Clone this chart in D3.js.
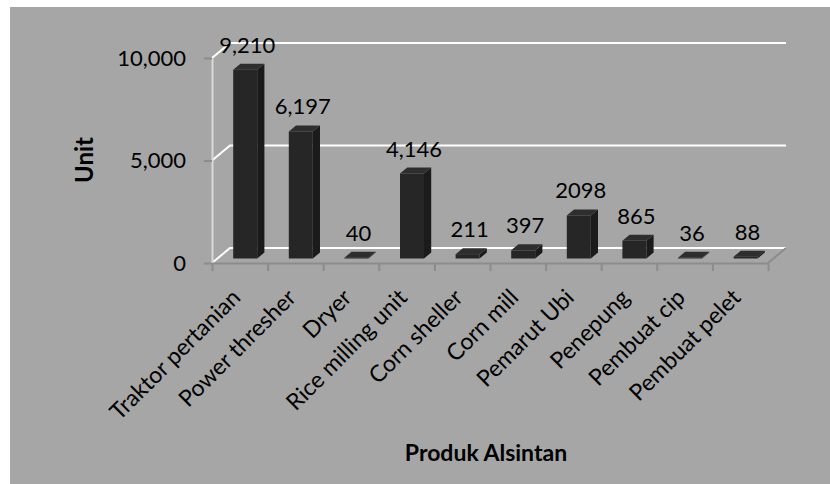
<!DOCTYPE html>
<html>
<head>
<meta charset="utf-8">
<script src="https://cdnjs.cloudflare.com/ajax/libs/d3/7.8.5/d3.min.js"></script>
<style>
  body { margin: 0; background: #fff; }
  text { font-family: Lato, "Open Sans", sans-serif; fill: #000; }
</style>
</head>
<body>
<div id="chart-area"></div>
<script>
// data
var categories = ["Traktor pertanian", "Power thresher", "Dryer", "Rice milling unit", "Corn sheller",
                  "Corn mill", "Pemarut Ubi", "Penepung", "Pembuat cip", "Pembuat pelet"];
var units = [9210, 6197, 40, 4146, 211, 397, 2098, 865, 36, 88];
var valueLabels = ["9,210", "6,197", "40", "4,146", "211", "397", "2098", "865", "36", "88"];
var yTicks = [0, 5000, 10000];

var width = 830, height = 484;
var pLeft = 212, pRight = 768, pBottom = 263, pTop = 58;
var DX = 18, DY = -15;          // depth of the 3d box
var bf = 0.3, bb = 0.7;         // bar front / back in depth

var svg = d3.select('#chart-area')
    .append('svg')
        .attr('width', width)
        .attr('height', height);

svg.append("rect")
    .attr("x", 10).attr("y", 7)
    .attr("width", width - 10).attr("height", height - 7)
    .attr("fill", "#a6a6a6");

var x = d3.scaleBand().domain(categories).range([pLeft, pRight]);
var xi = d3.scaleLinear().domain([0, categories.length]).range([pLeft, pRight]);
var y = d3.scaleLinear().domain([0, 10000]).range([pBottom, pTop]);

var g = svg.append("g");

// gridlines on side wall and back wall
yTicks.forEach(function(t) {
    g.append("path")
        .attr("d", "M" + pLeft + "," + y(t) + "L" + (pLeft + DX) + "," + (y(t) + DY) +
                   "L" + (pRight + DX) + "," + (y(t) + DY))
        .attr("fill", "none")
        .attr("stroke", "#fff")
        .attr("stroke-width", 2);
});

// floor right edge
g.append("line")
    .attr("x1", pRight).attr("y1", pBottom)
    .attr("x2", pRight + DX).attr("y2", pBottom + DY)
    .attr("stroke", "#8c8c8c").attr("stroke-width", 2);

// left axis
var leftAxis = d3.axisLeft(y).tickValues(yTicks).tickFormat(d3.format(",")).tickSize(8).tickSizeOuter(0);
var ya = g.append("g")
    .attr("class", "left axis")
    .attr("transform", "translate(" + pLeft + ",0)")
    .call(leftAxis);
ya.select(".domain").attr("stroke", "#d9d9d9").attr("stroke-width", 2);
ya.selectAll(".tick line").attr("stroke", "#8c8c8c").attr("stroke-width", 2);
ya.selectAll(".tick text")
    .attr("x", -26)
    .attr("fill", "#000")
    .attr("font-size", "22px")
    .attr("font-family", "Lato, sans-serif");

// bottom axis (ticks between categories)
var bottomAxis = d3.axisBottom(xi).ticks(categories.length).tickFormat("").tickSize(8).tickSizeOuter(0);
var xa = g.append("g")
    .attr("class", "bottom axis")
    .attr("transform", "translate(0," + pBottom + ")")
    .call(bottomAxis);
xa.select(".domain").attr("stroke", "#8c8c8c").attr("stroke-width", 2);
xa.selectAll(".tick line").attr("stroke", "#8c8c8c").attr("stroke-width", 2);

// category labels
g.selectAll(".cat")
    .data(categories)
    .enter().append("text")
        .attr("class", "cat")
        .attr("font-size", "23px")
        .attr("text-anchor", "end")
        .attr("transform", function(d) {
            return "translate(" + (x(d) + x.bandwidth() / 2 + 2) + "," + (pBottom + 36) + ") rotate(-45)";
        })
        .text(function(d) { return d; });

// bars
var bw = 24;
var bars = g.selectAll(".bar")
    .data(units)
    .enter().append("g")
        .attr("class", "bar");

function fx(i) { return x(categories[i]) + x.bandwidth() / 2 + DX * bf - bw / 2; }
function fy(v) { return y(v) + DY * bf; }
var ddx = DX * (bb - bf), ddy = DY * (bb - bf);

bars.append("path")   // side
    .attr("d", function(d, i) {
        var x1 = fx(i) + bw, y0 = fy(0), y1 = fy(d);
        return "M" + x1 + "," + y0 + "L" + (x1 + ddx) + "," + (y0 + ddy) +
               "L" + (x1 + ddx) + "," + (y1 + ddy) + "L" + x1 + "," + y1 + "Z";
    })
    .attr("fill", "#1b1b1b");
bars.append("path")   // top
    .attr("d", function(d, i) {
        var x0 = fx(i), y1 = fy(d);
        return "M" + x0 + "," + y1 + "L" + (x0 + ddx) + "," + (y1 + ddy) +
               "L" + (x0 + bw + ddx) + "," + (y1 + ddy) + "L" + (x0 + bw) + "," + y1 + "Z";
    })
    .attr("fill", "#2e2e2e");
bars.append("rect")   // front
    .attr("x", function(d, i) { return fx(i); })
    .attr("y", function(d) { return fy(d); })
    .attr("width", bw)
    .attr("height", function(d) { return fy(0) - fy(d); })
    .attr("fill", "#262626");

// value labels
g.selectAll(".val")
    .data(units)
    .enter().append("text")
        .attr("class", "val")
        .attr("font-size", "22px")
        .attr("text-anchor", "middle")
        .attr("x", function(d, i) { return fx(i) + bw / 2 + 2; })
        .attr("y", function(d) { return fy(d) - 17; })
        .text(function(d, i) { return valueLabels[i]; });

// axis titles
g.append("text")
    .attr("font-size", "24px")
    .attr("font-weight", "bold")
    .attr("text-anchor", "middle")
    .attr("transform", "translate(93,160) rotate(-90)")
    .text("Unit");

g.append("text")
    .attr("font-size", "23px")
    .attr("font-weight", "bold")
    .attr("text-anchor", "middle")
    .attr("x", 486)
    .attr("y", 461)
    .text("Produk Alsintan");
</script>
</body>
</html>
